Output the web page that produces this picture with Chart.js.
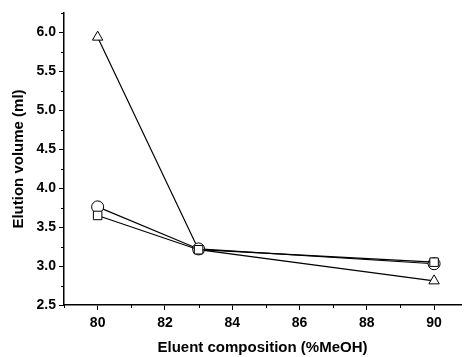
<!DOCTYPE html>
<html>
<head>
<meta charset="utf-8">
<script src="https://cdn.jsdelivr.net/npm/chart.js@4.4.1/dist/chart.umd.min.js"></script>
<style>
  html, body { margin: 0; padding: 0; background: #fff; }
  #wrap { width: 468px; height: 357px; }
</style>
</head>
<body>
<div id="wrap"><canvas id="elutionChart" width="468" height="357"></canvas></div>
<script>
// %MeOH in the eluent
const composition = [80, 83, 90];
// elution volumes (ml)
const squareVals = [3.65, 3.21, 3.05];
const circleVals = [3.76, 3.22, 3.03];
const triangleVals = [5.94, 3.21, 2.81];

const xTicks = [80, 82, 84, 86, 88, 90];
const yTicks = [2.5, 3.0, 3.5, 4.0, 4.5, 5.0, 5.5, 6.0];
const xMinor = [79, 81, 83, 85, 87, 89];
const yMinor = [2.75, 3.25, 3.75, 4.25, 4.75, 5.25, 5.75, 6.25];

const pts = vals => composition.map((x, i) => ({ x: x, y: vals[i] }));

const serie = (vals, shape) => ({
    data: pts(vals),
    showLine: true,
    borderColor: '#000',
    borderWidth: 1.2,
    backgroundColor: '#fff',
    pointStyle: shape,
    pointRadius: 6,
    pointBorderWidth: 1,
    pointBackgroundColor: '#fff',
    pointBorderColor: '#000',
    tension: 0
});

// small outward ticks between the labelled ones
const minorTicks = {
    id: 'minorTicks',
    afterDraw(chart) {
        const c = chart.ctx;
        const xs = chart.scales.x, ys = chart.scales.y;
        c.save();
        c.strokeStyle = '#000';
        c.lineWidth = 1;
        c.beginPath();
        xMinor.forEach(v => {
            const px = Math.round(xs.getPixelForValue(v)) + 0.5;
            c.moveTo(px, xs.top);
            c.lineTo(px, xs.top + 3);
        });
        yMinor.forEach(v => {
            const py = Math.round(ys.getPixelForValue(v)) + 0.5;
            c.moveTo(ys.right, py);
            c.lineTo(ys.right - 3, py);
        });
        c.stroke();
        c.restore();
    }
};

const tickFont = { family: 'Liberation Sans, Arial, sans-serif', size: 14, weight: 'bold' };
const titleFont = { family: 'Liberation Sans, Arial, sans-serif', size: 15, weight: 'bold' };

const ctx = document.getElementById('elutionChart').getContext('2d');
const elutionChart = new Chart(ctx, {
    type: 'scatter',
    data: {
        datasets: [
            serie(squareVals, 'rect'),
            serie(circleVals, 'circle'),
            serie(triangleVals, 'triangle')
        ]
    },
    options: {
        responsive: false,
        animation: false,
        layout: { padding: { top: 13, right: 4, left: 0, bottom: 0 } },
        plugins: {
            legend: { display: false },
            tooltip: { enabled: false }
        },
        scales: {
            x: {
                type: 'linear',
                min: 79,
                max: 90.8,
                afterBuildTicks: s => { s.ticks = xTicks.map(v => ({ value: v })); },
                afterFit: s => { s.height = 52; },
                border: { color: '#000', width: 1.5 },
                grid: { drawOnChartArea: false, drawTicks: true, tickLength: 5, color: '#000', lineWidth: 1 },
                ticks: { color: '#000', font: tickFont, padding: 5, maxRotation: 0,
                    callback: v => String(v) },
                title: { display: true, text: 'Eluent composition (%MeOH)', color: '#000', font: titleFont,
                    padding: { top: 4, bottom: 0 } }
            },
            y: {
                type: 'linear',
                min: 2.5,
                max: 6.25,
                afterBuildTicks: s => { s.ticks = yTicks.map(v => ({ value: v })); },
                afterFit: s => { s.width = 64; },
                border: { color: '#000', width: 1.5 },
                grid: { drawOnChartArea: false, drawTicks: true, tickLength: 5, color: '#000', lineWidth: 1 },
                ticks: { color: '#000', font: tickFont, padding: 3,
                    callback: v => Number(v).toFixed(1) },
                title: { display: true, text: 'Elution volume (ml)', color: '#000', font: titleFont,
                    padding: { top: 10, bottom: 0 } }
            }
        }
    },
    plugins: [minorTicks]
});
</script>
</body>
</html>
